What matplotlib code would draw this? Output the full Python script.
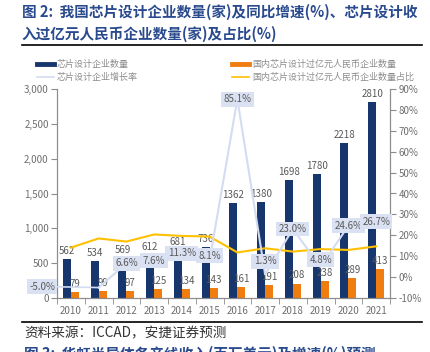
import matplotlib
matplotlib.use("Agg")
import matplotlib.pyplot as plt
from matplotlib.lines import Line2D
from matplotlib.ticker import FuncFormatter
import numpy as np

plt.rcParams['font.family'] = ['Noto Sans CJK SC', 'DejaVu Sans']

# data
years = ['2010', '2011', '2012', '2013', '2014', '2015', '2016', '2017', '2018', '2019', '2020', '2021']
firms = [562, 534, 569, 612, 681, 736, 1362, 1380, 1698, 1780, 2218, 2810]
big_firms = [79, 99, 97, 125, 134, 143, 161, 191, 208, 238, 289, 413]
growth = [None, -5.0, 6.6, 7.6, 11.3, 8.1, 85.1, 1.3, 23.0, 4.8, 24.6, 26.7]
share = [14.1, 18.5, 17.0, 20.4, 19.7, 19.4, 11.8, 13.8, 12.2, 13.4, 13.0, 14.7]

NAVY = '#17366e'
ORANGE = '#ef7d0f'
YELLOW = '#ffc000'
PALE = '#d3dcf0'
BOXC = '#d9e1f2'
GREY = '#595959'

W, H = 430, 352
fig = plt.figure(figsize=(W / 100, H / 100), dpi=100)

def fx(px):
    return px / W

def fy(py):
    return 1 - py / H

# title block
fig.text(fx(22), fy(12), '图 2:  我国芯片设计企业数量(家)及同比增速(%)、芯片设计收',
         fontsize=10.5, fontweight='bold', color='#2a4a8e', va='center')
fig.text(fx(22), fy(34), '入过亿元人民币企业数量(家)及占比(%)',
         fontsize=10.5, fontweight='bold', color='#2a4a8e', va='center')
fig.add_artist(Line2D([fx(22), fx(422)], [fy(44.5), fy(44.5)], color='black', lw=1.2))

# legend (drawn by hand to match the layout)
leg = [
    (37, 64, NAVY, 3.5, '芯片设计企业数量'),
    (37, 77, PALE, 1.2, '芯片设计企业增长率'),
    (232, 64, ORANGE, 3.5, '国内芯片设计过亿元人民币企业数量'),
    (232, 77, YELLOW, 1.2, '国内芯片设计过亿元人民币企业数量占比'),
]
for x0, y0, c, lw, lab in leg:
    fig.add_artist(Line2D([fx(x0), fx(x0 + 17)], [fy(y0), fy(y0)], color=c, lw=lw))
    fig.text(fx(x0 + 20), fy(y0), lab, fontsize=6.5, color='#8c8c8c', va='center')

# axes
ax = fig.add_axes([fx(57), fy(298), fx(390) - fx(57), fy(89) - fy(298)])
ax2 = ax.twinx()

x = np.arange(len(years))
bw = 0.29
ax.bar(x - bw / 2, firms, bw, color=NAVY, zorder=2)
ax.bar(x + bw / 2, big_firms, bw, color=ORANGE, zorder=2)

for i in range(len(years)):
    ax.text(x[i] - bw / 2, firms[i] + 45, str(firms[i]), ha='center', va='bottom',
            fontsize=7, color=GREY)
    ax.text(x[i] + bw / 2, big_firms[i] + 45, str(big_firms[i]), ha='center', va='bottom',
            fontsize=7, color=GREY)

ax.set_xlim(-0.5, len(years) - 0.5)
ax.set_ylim(0, 3000)
ax.set_yticks(np.arange(0, 3001, 500))
ax.yaxis.set_major_formatter(FuncFormatter(lambda v, p: '{:,.0f}'.format(v)))

ax2.set_ylim(-10, 90)
ax2.set_yticks(np.arange(-10, 91, 10))
ax2.yaxis.set_major_formatter(FuncFormatter(lambda v, p: '{:.0f}%'.format(v)))

# lines
ax2.plot(x, share, color=YELLOW, lw=1.5, zorder=3)
g = np.array([np.nan if v is None else v for v in growth])
ax2.plot(x, g, color=PALE, lw=1.5, zorder=4)

# growth labels (positions of the boxes)
lab_x = [None, -1.04, 2, 3, 4, 5, 6, 7, 8, 9, 10, 11]
lab_y = [None, -4.5, 6.6, 7.9, 11.3, 10.3, 85.1, 7.6, 23.0, 8.4, 24.6, 26.5]
bbox = dict(boxstyle='square,pad=0.25', fc=BOXC, ec='none')
for i in range(len(years)):
    if growth[i] is None:
        continue
    if i == 1:
        ax2.annotate('%.1f%%' % growth[i], xy=(x[i], growth[i]), xytext=(lab_x[i], lab_y[i]),
                     ha='center', va='center', fontsize=7, color=GREY, bbox=bbox,
                     annotation_clip=False, zorder=6,
                     arrowprops=dict(arrowstyle='-', color=PALE, lw=1.2,
                                     shrinkA=0, shrinkB=0))
    else:
        ax2.text(lab_x[i], lab_y[i], '%.1f%%' % growth[i], ha='center', va='center',
                 fontsize=7, color=GREY, bbox=bbox, zorder=6)

# styling
for a in (ax, ax2):
    a.spines['top'].set_visible(False)
    for s in ('left', 'right', 'bottom'):
        a.spines[s].set_color('#8c8c8c')
        a.spines[s].set_linewidth(0.8)
ax.tick_params(axis='y', direction='out', length=4, color='#8c8c8c', labelsize=7,
               labelcolor='#6e6e6e', pad=2)
ax2.tick_params(axis='y', direction='out', length=4, color='#8c8c8c', labelsize=7,
                labelcolor='#6e6e6e', pad=2)
ax.set_xticks(x)
ax.set_xticklabels(years)
ax.set_xticks(np.arange(-0.5, len(years)), minor=True)
ax.tick_params(axis='x', which='major', length=0, labelsize=7, labelcolor='#6e6e6e', pad=6)
ax.tick_params(axis='x', which='minor', length=4, direction='out', color='#8c8c8c')

# source and next heading
fig.add_artist(Line2D([fx(22), fx(422)], [fy(322.3), fy(322.3)], color='black', lw=1.2))
fig.text(fx(24), fy(333), '资料来源：ICCAD，安捷证券预测', fontsize=9.8, style='italic',
         color='#333333', va='center')
fig.text(fx(24), fy(345.5), '图 3:  华虹半导体各产线收入(百万美元)及增速(%)预测',
         fontsize=10.5, fontweight='bold', color='#2a4a8e', va='top')

fig.savefig('out.png', dpi=100)
